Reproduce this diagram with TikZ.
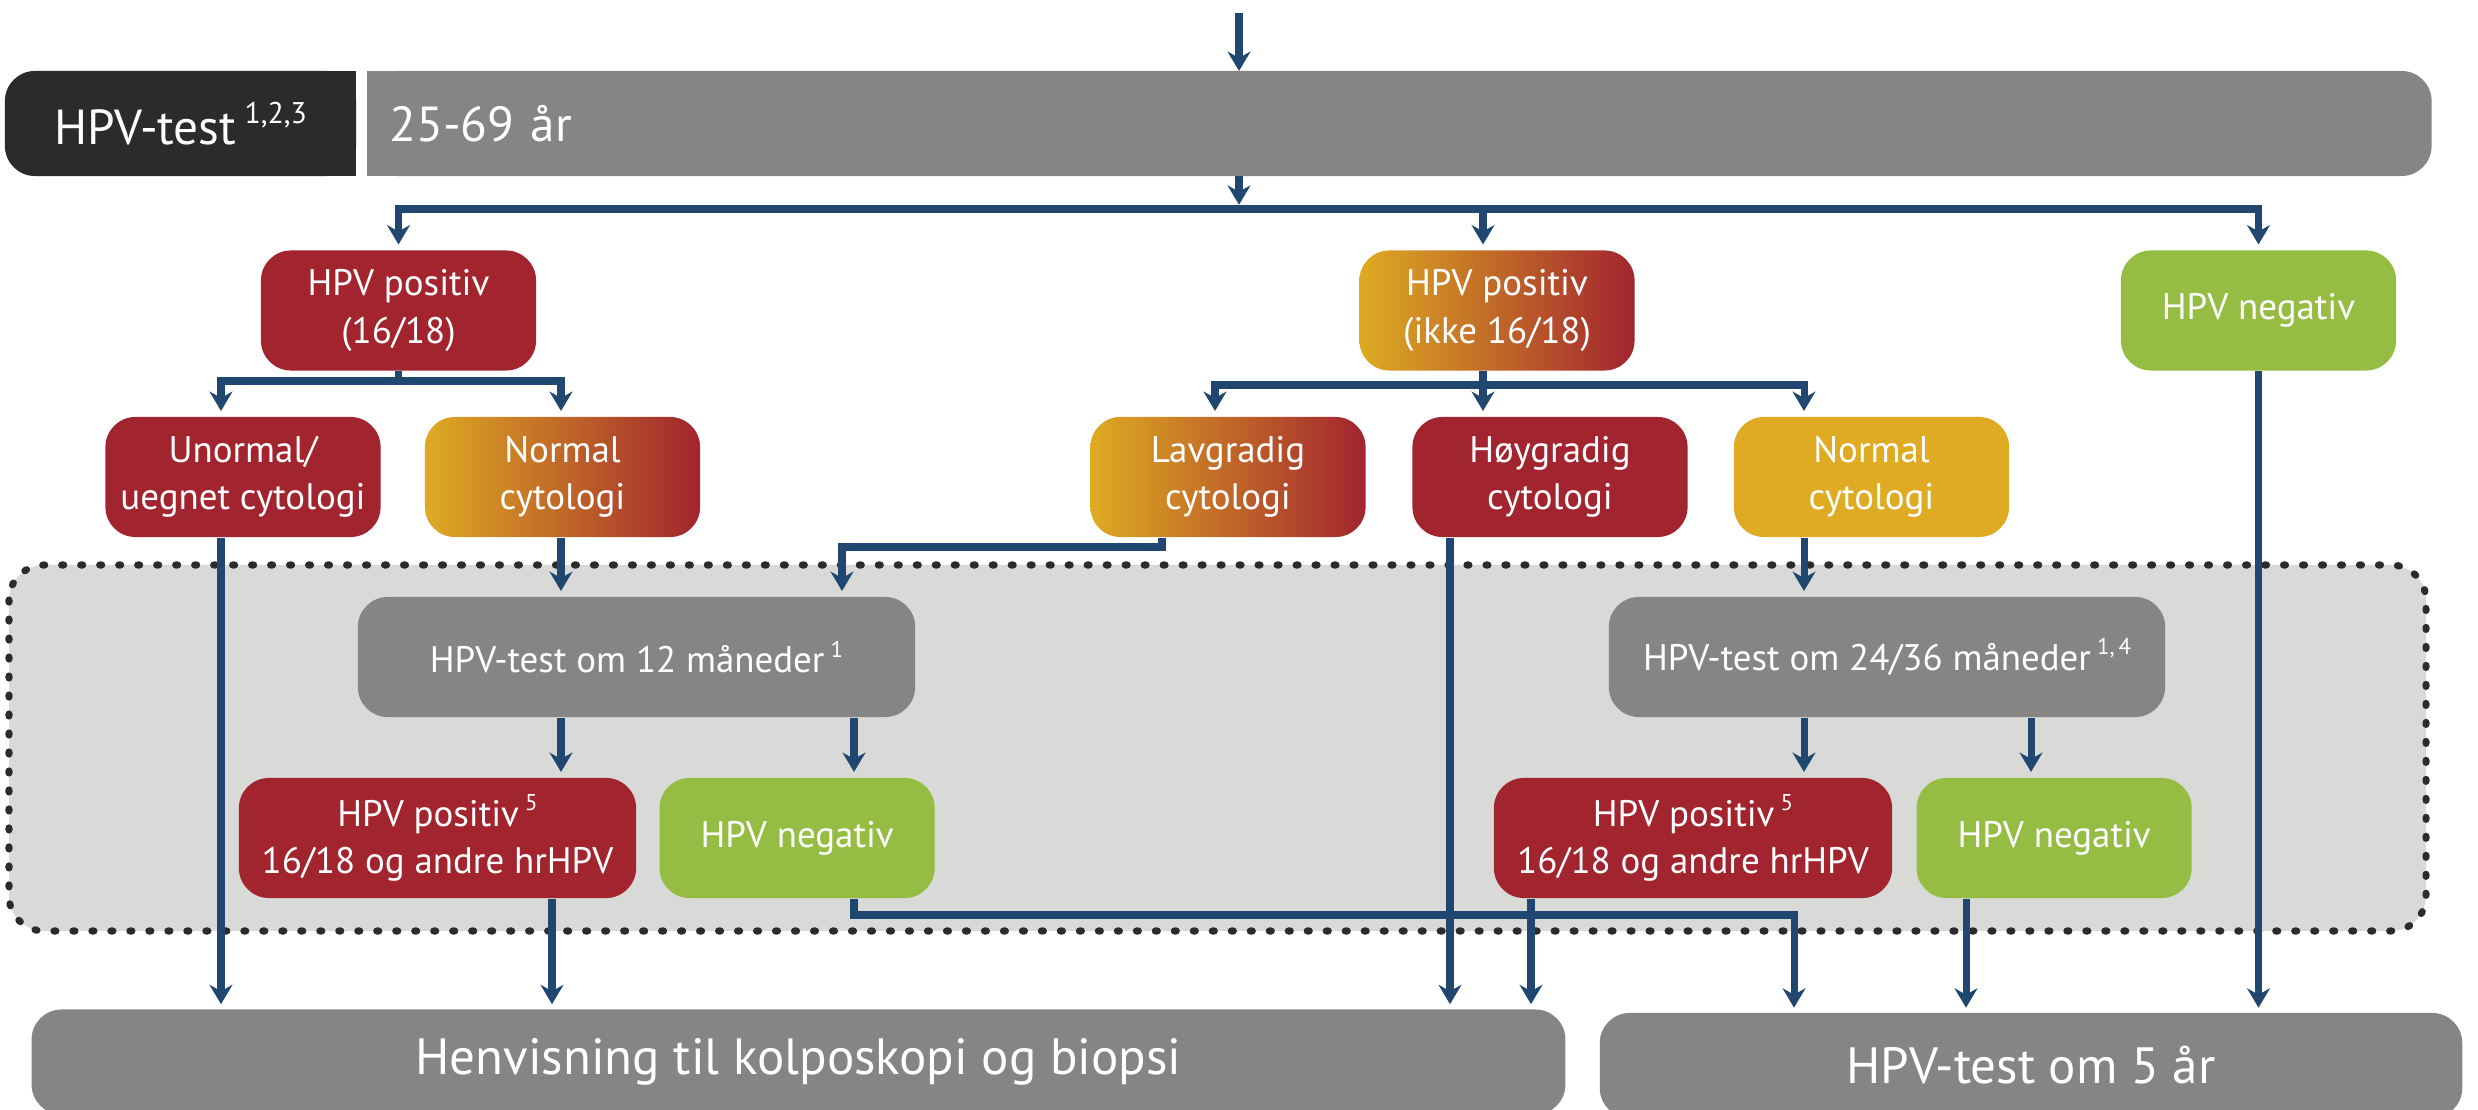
\documentclass[tikz,border=0pt]{standalone}
\usepackage{fontspec}
\setmainfont{PT Sans}
\usepackage{tikz}
\usetikzlibrary{positioning, arrows.meta, backgrounds}

\definecolor{hpvblue}{HTML}{1F4770}
\definecolor{hpvred}{HTML}{A2242F}
\definecolor{hpvyellow}{HTML}{DEAB22}
\definecolor{hpvgreen}{HTML}{95BD43}
\definecolor{hpvgrey}{HTML}{868583}
\definecolor{hpvdark}{HTML}{2D2A2B}
\definecolor{hpvzone}{HTML}{D9D9D7}

\newcommand{\fnote}[2][6.5]{\,\raisebox{0.85ex}{\fontsize{#1}{#1}\selectfont #2}}

\begin{document}
\begin{tikzpicture}[
    x=0.01cm, y=-0.01cm,
    box/.style={rectangle, rounded corners=0.3cm, text=white, align=center, minimum height=1.2cm, minimum width=2.75cm, inner sep=2pt, font=\fontsize{10.5}{13.5}\selectfont},
    redbox/.style={box, fill=hpvred},
    greenbox/.style={box, fill=hpvgreen},
    yellowbox/.style={box, fill=hpvyellow},
    mixbox/.style={box, left color=hpvyellow, right color=hpvred},
    greybox/.style={box, fill=hpvgrey},
    bar/.style={rectangle, rounded corners=0.3cm, text=white, minimum height=1.05cm, inner sep=2pt, outer sep=0pt, font=\fontsize{14}{16}\selectfont},
    zone/.style={fill=hpvzone, draw=hpvdark, line width=2pt, dash pattern=on 0.6pt off 4.8pt, line cap=round, rounded corners=0.35cm},
    line/.style={draw=hpvblue, line width=2pt, -{Stealth[length=5.5pt, width=6.5pt, inset=1.8pt]}, shorten >=1.5pt},
    link/.style={draw=hpvblue, line width=2pt}
    ]
    \useasboundingbox (0,0) rectangle (2478,1110);

    % Follow-up zone
    \draw[zone] (9,565) rectangle (2426,931);

    % Nodes
    \node[bar, fill=hpvdark, minimum width=3.51cm] (hpvtest) at (180.5,123.5) {HPV-test\fnote[8.5]{1,2,3}};
    \node[bar, fill=hpvgrey, minimum width=20.63cm, text width=20.19cm, inner xsep=0.22cm, align=left] (age) at (1399.5,123.5) {25-69 år};

    \node[redbox] (pos1618) at (398.5,310.5) {HPV positiv\\(16/18)};
    \node[mixbox] (posother) at (1497,310.5) {HPV positiv\\(ikke 16/18)};
    \node[greenbox] (neg) at (2258.5,310.5) {HPV negativ};

    \node[redbox] (abnormal) at (243,477) {Unormal/\\uegnet cytologi};
    \node[mixbox] (normalA) at (562.5,477) {Normal\\cytologi};
    \node[mixbox] (lowgrade) at (1228,477) {Lavgradig\\cytologi};
    \node[redbox] (highgrade) at (1550,477) {Høygradig\\cytologi};
    \node[yellowbox] (normalB) at (1871.5,477) {Normal\\cytologi};

    \node[greybox, minimum width=5.57cm] (retest12) at (636.5,657) {HPV-test om 12 måneder\fnote{1}};
    \node[greybox, minimum width=5.56cm] (retest24) at (1887,657) {HPV-test om 24/36 måneder\fnote{1,\,4}};

    \node[redbox, minimum width=3.97cm] (pos12) at (437.5,838) {HPV positiv\fnote{5}\\16/18 og andre hrHPV};
    \node[greenbox, right=0.22cm of pos12] (neg12) {HPV negativ};
    \node[redbox, minimum width=3.98cm] (pos24) at (1693,838) {HPV positiv\fnote{5}\\16/18 og andre hrHPV};
    \node[greenbox, right=0.23cm of pos24] (neg24) {HPV negativ};

    \node[bar, fill=hpvgrey, minimum width=15.33cm, font=\fontsize{14.5}{17}\selectfont] (referral) at (798.5,1062) {Henvisning til kolposkopi og biopsi};
    \node[bar, fill=hpvgrey, minimum width=8.62cm, font=\fontsize{14.5}{17}\selectfont] (fiveyears) at (2031,1065.5) {HPV-test om 5 år};

    % square ends of the top bar
    \begin{scope}[on background layer]
        \fill[hpvdark] ([xshift=-1cm]hpvtest.north east) rectangle (hpvtest.south east);
        \fill[hpvgrey] (age.north west) rectangle ([xshift=1cm]age.south west);
    \end{scope}

    % Lanes and bends
    \coordinate (start) at (1239,13);
    \coordinate (split) at (1239,209);
    \coordinate (fork1) at (398.5,381);
    \coordinate (fork2) at (1483,385);
    \coordinate (bend1) at (1162,547);
    \coordinate (bend2) at (854,915);
    \coordinate (laneA) at (221,0);
    \coordinate (laneB) at (561,0);
    \coordinate (laneC) at (842,0);
    \coordinate (laneD) at (1450,0);
    \coordinate (laneE) at (1804,0);
    \coordinate (laneF) at (552,0);
    \coordinate (laneG) at (1531,0);
    \coordinate (laneH) at (1794,0);
    \coordinate (laneI) at (2031,0);
    \coordinate (laneJ) at (1966,0);
    \coordinate (laneK) at (1215,0);

    % Arrows
    \draw[line, shorten >=0pt] (start) -- (start |- age.north);
    \draw[line, shorten >=1.2pt] (start |- age.south) -- (split);
    \draw[line] (split) -| (pos1618.north);
    \draw[line] (split) -| (fork2 |- posother.north);
    \draw[line] (split) -| (neg.north);

    \draw[link] (pos1618.south) -- (fork1);
    \draw[line] (fork1) -| (laneA |- abnormal.north);
    \draw[line] (fork1) -| (laneB |- normalA.north);

    \draw[link] (fork2 |- posother.south) -- (fork2);
    \draw[line] (fork2) -| (laneK |- lowgrade.north);
    \draw[line] (fork2) -- (fork2 |- highgrade.north);
    \draw[line] (fork2) -| (laneE |- normalB.north);

    \draw[line] (laneA |- abnormal.south) -- (laneA |- referral.north);
    \draw[line] (laneB |- normalA.south) -- (laneB |- retest12.north);
    \draw[line] (bend1 |- lowgrade.south) -- (bend1) -| (laneC |- retest12.north);
    \draw[line] (laneD |- highgrade.south) -- (laneD |- referral.north);
    \draw[line] (laneE |- normalB.south) -- (laneE |- retest24.north);
    \draw[line] (neg.south) -- (neg.south |- fiveyears.north);

    \draw[line] (laneB |- retest12.south) -- (laneB |- pos12.north);
    \draw[line] (bend2 |- retest12.south) -- (bend2 |- neg12.north);
    \draw[line] (laneE |- retest24.south) -- (laneE |- pos24.north);
    \draw[line] (laneI |- retest24.south) -- (laneI |- neg24.north);

    \draw[line] (laneF |- pos12.south) -- (laneF |- referral.north);
    \draw[line] (bend2 |- neg12.south) -- (bend2) -| (laneH |- fiveyears.north);
    \draw[line] (laneG |- pos24.south) -- (laneG |- referral.north);
    \draw[line] (laneJ |- neg24.south) -- (laneJ |- fiveyears.north);
\end{tikzpicture}
\end{document}
